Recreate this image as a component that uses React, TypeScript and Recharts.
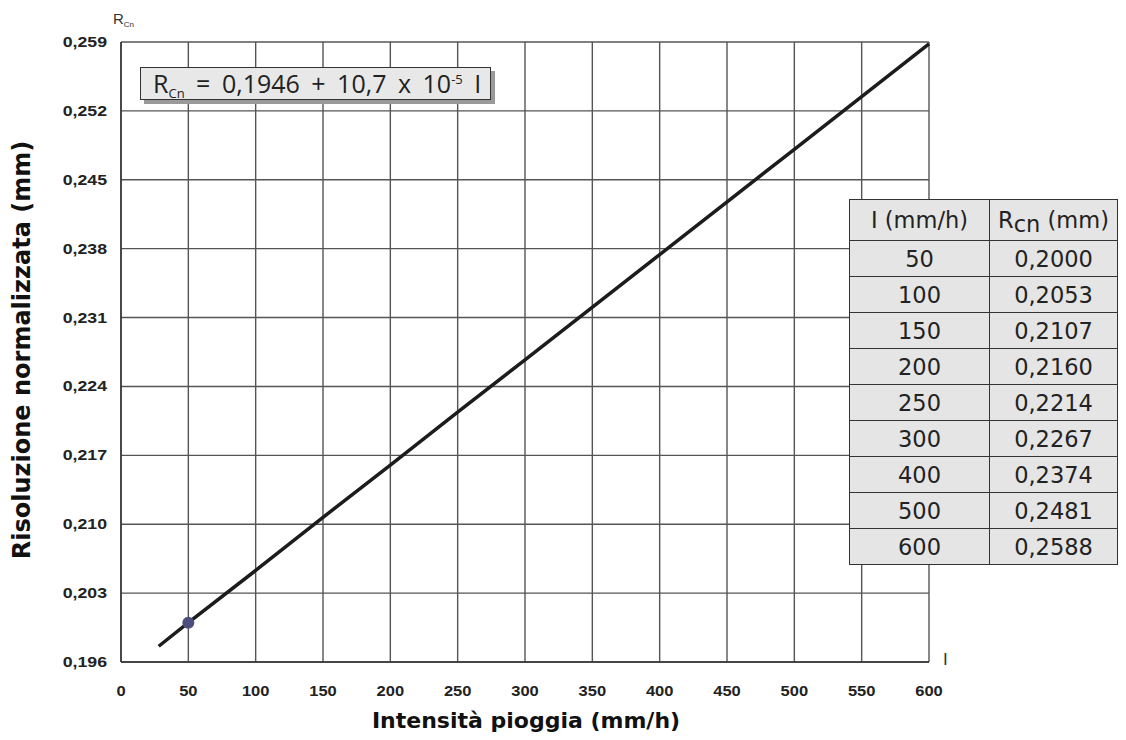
import {
  ComposedChart,
  Line,
  XAxis,
  YAxis,
  CartesianGrid,
} from 'recharts';

const intensity = [28, 50, 100, 150, 200, 250, 300, 400, 500, 600];
const resolution = [0.1976, 0.2, 0.2053, 0.2107, 0.216, 0.2214, 0.2267, 0.2374, 0.2481, 0.2588];

const xTicks = [0, 50, 100, 150, 200, 250, 300, 350, 400, 450, 500, 550, 600];
const yTicks = [0.196, 0.203, 0.21, 0.217, 0.224, 0.231, 0.238, 0.245, 0.252, 0.259];

// righe della tabella
const tableI = [50, 100, 150, 200, 250, 300, 400, 500, 600];
const tableR = [0.2, 0.2053, 0.2107, 0.216, 0.2214, 0.2267, 0.2374, 0.2481, 0.2588];

const markedI = 50;

const data = intensity.map((I, i) => ({ I, R: resolution[i] }));

const comma = (v: number, d: number) => v.toFixed(d).replace('.', ',');

const tickFont = { fontSize: 15, fontWeight: 700, fontFamily: 'Liberation Sans, Arial' };

const MarkerDot = (props: any) => {
  const { cx, cy, payload } = props;
  if (payload.I !== markedI) return <g key={props.key} />;
  return <circle key={props.key} cx={cx} cy={cy} r={6} fill="#4e4e7e" />;
};

const XTick = ({ x, y, payload }: any) => (
  <text
    transform={`translate(${x},${y + 32}) scale(1.1,1)`}
    textAnchor="middle"
    fill="#222"
    style={tickFont}
  >
    {payload.value}
  </text>
);

const YTick = ({ x, y, payload }: any) => (
  <text
    transform={`translate(${x - 12},${y + 5}) scale(1.18,1)`}
    textAnchor="end"
    fill="#222"
    style={tickFont}
  >
    {comma(payload.value, 3)}
  </text>
);

const cellStyle: React.CSSProperties = {
  border: '1.5px solid #333',
  textAlign: 'center',
  padding: 0,
  height: 35,
};

const App = () => {
  return (
    <div style={{ position: 'absolute', left: 0, top: 0, width: 1126, height: 740, background: '#fff' }}>
      <ComposedChart
        width={1126}
        height={740}
        data={data}
        margin={{ top: 42, right: 197, bottom: 0, left: 0 }}
      >
        <CartesianGrid stroke="#555" strokeWidth={1.4} />
        <XAxis
          type="number"
          dataKey="I"
          domain={[0, 600]}
          ticks={xTicks}
          height={78}
          tickLine={false}
          tickSize={0}
          axisLine={{ stroke: '#333', strokeWidth: 1.5 }}
          tick={<XTick />}
        />
        <YAxis
          type="number"
          domain={[0.196, 0.259]}
          ticks={yTicks}
          width={121}
          tickLine={false}
          tickSize={0}
          axisLine={{ stroke: '#333', strokeWidth: 1.5 }}
          tick={<YTick />}
        />
        <Line
          dataKey="R"
          stroke="#1c1c1c"
          strokeWidth={3.5}
          dot={<MarkerDot />}
          activeDot={false}
          isAnimationActive={false}
        />
      </ComposedChart>

      {/* etichetta asse Y in alto */}
      <div style={{ position: 'absolute', left: 113, top: 11, fontFamily: 'Liberation Sans, Arial', fontSize: 15, color: '#333', lineHeight: 1 }}>
        R<span style={{ fontSize: 8, position: 'relative', top: 3 }}>Cn</span>
      </div>
      {/* etichetta asse X a destra */}
      <div style={{ position: 'absolute', left: 943, top: 651, fontFamily: 'Liberation Sans, Arial', fontSize: 17, color: '#333', lineHeight: 1 }}>
        I
      </div>

      {/* riquadro formula */}
      <div
        style={{
          position: 'absolute',
          left: 140,
          top: 67,
          width: 351,
          height: 33,
          background: '#e8e8e8',
          border: '1px solid #333',
          boxShadow: '4px 4px 0 #9a9a9a',
          fontFamily: 'Open Sans',
          fontSize: 25,
          color: '#222',
          lineHeight: '31px',
          paddingLeft: 12,
          boxSizing: 'border-box',
          whiteSpace: 'nowrap',
          wordSpacing: 5,
        }}
      >
        R<span style={{ fontSize: 13, position: 'relative', top: 5 }}>Cn</span> = 0,1946 + 10,7 x 10
        <span style={{ fontSize: 13, position: 'relative', top: -9 }}>-5</span> I
      </div>

      {/* tabella */}
      <table
        style={{
          position: 'absolute',
          left: 849,
          top: 199,
          width: 269,
          borderCollapse: 'collapse',
          background: '#e5e5e5',
          fontFamily: 'DejaVu Sans, Verdana',
          fontSize: 22.5,
          color: '#222',
        }}
      >
        <thead>
          <tr>
            <th style={{ ...cellStyle, height: 40, fontWeight: 400, width: 139 }}>I (mm/h)</th>
            <th style={{ ...cellStyle, height: 40, fontWeight: 400 }}>
              R<span style={{ position: 'relative', top: 4 }}>cn</span> (mm)
            </th>
          </tr>
        </thead>
        <tbody>
          {tableI.map((I, i) => (
            <tr key={I}>
              <td style={cellStyle}>{I}</td>
              <td style={cellStyle}>{comma(tableR[i], 4)}</td>
            </tr>
          ))}
        </tbody>
      </table>

      {/* titoli assi */}
      <div
        style={{
          position: 'absolute',
          left: 22,
          top: 350,
          transform: 'translate(-50%, -50%) rotate(-90deg)',
          fontFamily: 'DejaVu Sans, Verdana',
          fontWeight: 700,
          fontSize: 24,
          color: '#111',
          whiteSpace: 'nowrap',
        }}
      >
        Risoluzione normalizzata (mm)
      </div>
      <div
        style={{
          position: 'absolute',
          left: 526,
          top: 720,
          transform: 'translate(-50%, -50%)',
          fontFamily: 'DejaVu Sans, Verdana',
          fontWeight: 700,
          fontSize: 22,
          color: '#111',
          whiteSpace: 'nowrap',
        }}
      >
        Intensità pioggia (mm/h)
      </div>
    </div>
  );
};

export default App;
